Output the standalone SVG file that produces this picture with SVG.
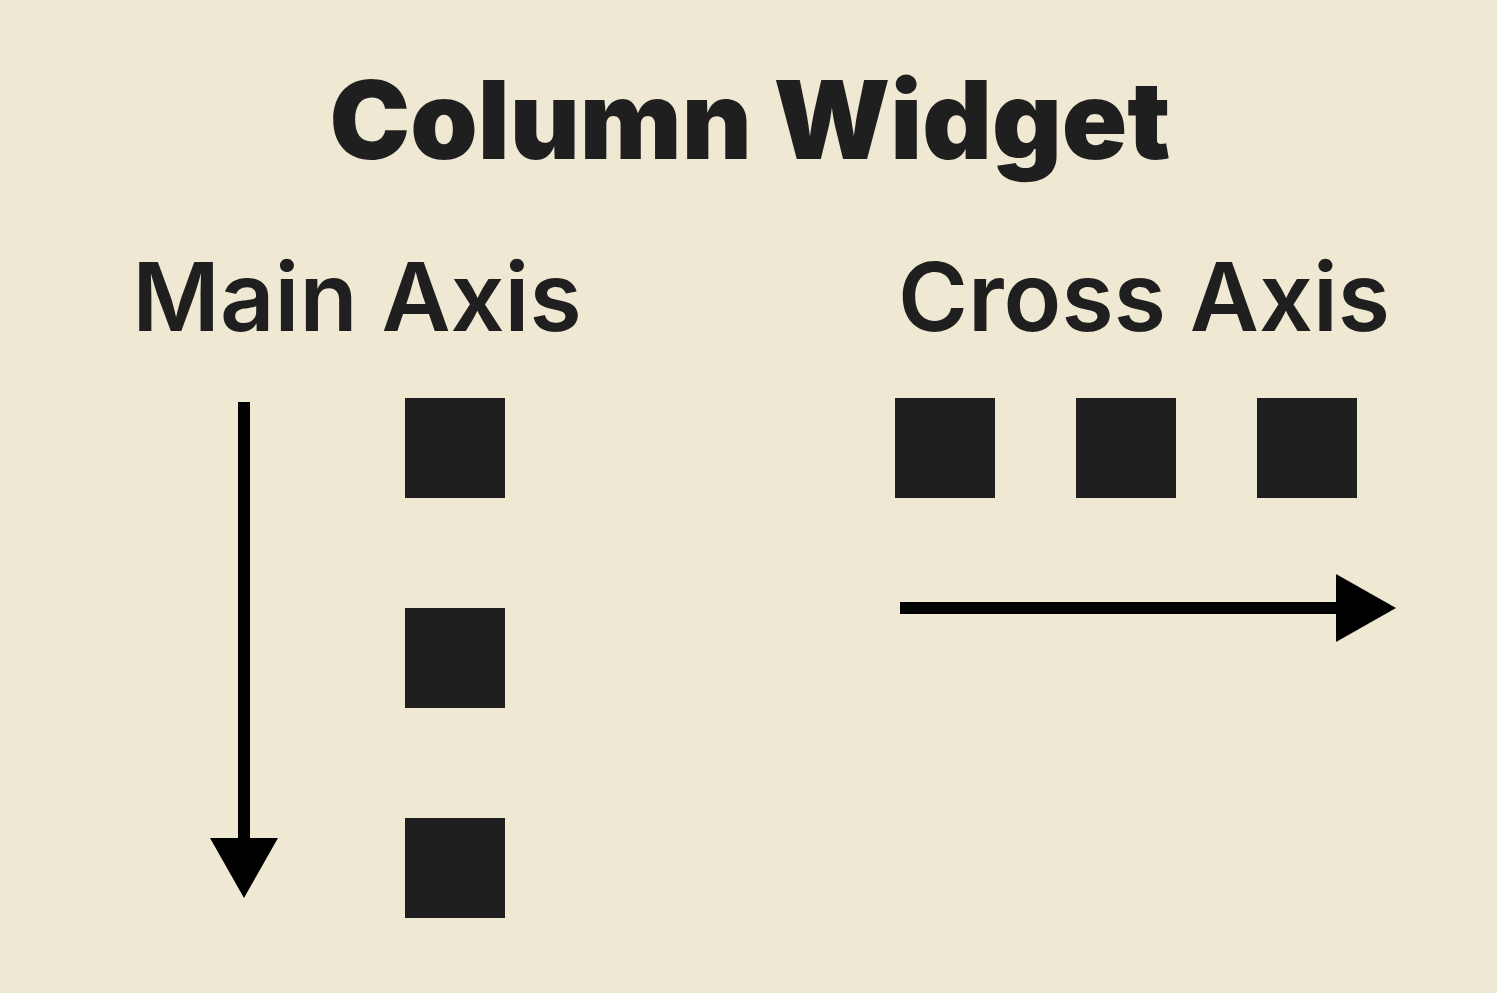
<svg xmlns="http://www.w3.org/2000/svg" width="1497" height="993" viewBox="0 0 1497 993">
<style>
.title{font-family:Inter,"Noto Sans",sans-serif;font-weight:900;font-size:108px;fill:#1f1f1f;text-anchor:middle}
.label{font-family:Inter,"Noto Sans",sans-serif;font-weight:600;font-size:95px;fill:#1f1f1f;text-anchor:middle}
.box{fill:#1f1f1f}
.arrow{fill:#000}
</style>
<rect width="1497" height="993" fill="#efe8d2"/>
<g id="title"><text class="title" x="750" y="159">Column Widget</text></g>
<g id="main-axis-label"><text class="label" x="357" y="331">Main Axis</text></g>
<g id="cross-axis-label"><text class="label" x="1144" y="331">Cross Axis</text></g>
<g id="main-box-1"><rect class="box" x="405" y="398" width="100" height="100"/></g>
<g id="main-box-2"><rect class="box" x="405" y="608" width="100" height="100"/></g>
<g id="main-box-3"><rect class="box" x="405" y="818" width="100" height="100"/></g>
<g id="cross-box-1"><rect class="box" x="895" y="398" width="100" height="100"/></g>
<g id="cross-box-2"><rect class="box" x="1076" y="398" width="100" height="100"/></g>
<g id="cross-box-3"><rect class="box" x="1257" y="398" width="100" height="100"/></g>
<g id="connectors">
<rect class="arrow" x="238" y="402" width="12" height="440"/>
<polygon class="arrow" points="210,838 278,838 244,898"/>
<rect class="arrow" x="900" y="602" width="440" height="12"/>
<polygon class="arrow" points="1336,574 1336,642 1396,608"/>
</g>
</svg>
